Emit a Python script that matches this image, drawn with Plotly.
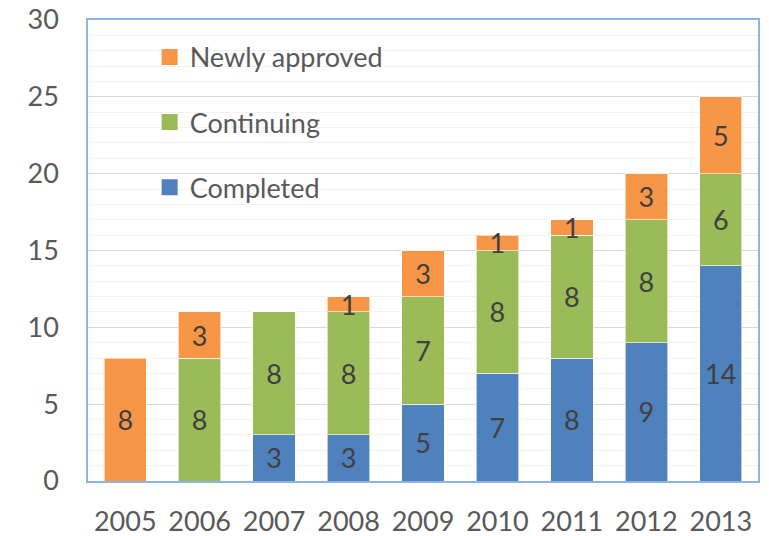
import plotly.graph_objects as go

# Project counts per year
years = ["2005", "2006", "2007", "2008", "2009", "2010", "2011", "2012", "2013"]
completed = [0, 0, 3, 3, 5, 7, 8, 9, 14]
continuing = [0, 8, 8, 8, 7, 8, 8, 8, 6]
newly_approved = [8, 3, 0, 1, 3, 1, 1, 3, 5]

series = [
    ("Completed", completed, "#4F81BD", 3),
    ("Continuing", continuing, "#9BBB59", 2),
    ("Newly approved", newly_approved, "#F79646", 1),
]

fig = go.Figure()
for name, vals, color, rank in series:
    fig.add_trace(go.Bar(
        x=years,
        y=vals,
        name=name,
        legendgroup=name,
        showlegend=False,
        marker=dict(color=color, line=dict(color="rgba(255,255,255,0.6)", width=1)),
        text=[str(v) if v else "" for v in vals],
        textposition="inside",
        insidetextanchor="middle",
        constraintext="none",
        textangle=0,
        textfont=dict(family="Lato", size=27, color="#404040"),
    ))
    # legend-only entry so the swatch can be a bigger square
    fig.add_trace(go.Scatter(
        x=[None], y=[None],
        mode="markers",
        name=name,
        legendgroup=name,
        legendrank=rank,
        marker=dict(symbol="square", size=18, color=color),
        hoverinfo="skip",
    ))

# page body adds an 8px offset, so the figure is sized to fit the window
fig.update_layout(
    width=761,
    height=528,
    barmode="stack",
    bargap=0.43,
    plot_bgcolor="white",
    paper_bgcolor="white",
    margin=dict(l=80, r=11, t=12, b=55),
    font=dict(family="Lato", color="#595959"),
    showlegend=True,
    legend=dict(
        x=0.092, y=0.972, xanchor="left", yanchor="top",
        traceorder="grouped",
        tracegroupgap=27,
        font=dict(size=27, color="#595959"),
        bgcolor="rgba(0,0,0,0)",
        itemwidth=30,
        itemsizing="trace",
    ),
    xaxis=dict(
        automargin=False,
        showline=True, linecolor="#8EB4E3", linewidth=1.5, mirror=True,
        tickfont=dict(size=27, color="#595959"),
        ticks="outside", ticklen=16, tickcolor="rgba(0,0,0,0)",
    ),
    yaxis=dict(
        automargin=False,
        range=[0, 30],
        dtick=5,
        ticklabeloverflow="allow",
        showline=True, linecolor="#8EB4E3", linewidth=1.5, mirror=True,
        gridcolor="#D9D9D9", gridwidth=1,
        minor=dict(dtick=1, showgrid=True, gridcolor="#F2F2F2", gridwidth=1),
        tickfont=dict(size=27, color="#595959"),
        ticks="outside", ticklen=22, tickcolor="rgba(0,0,0,0)",
        zeroline=False,
    ),
)

fig.write_html("out.html")
